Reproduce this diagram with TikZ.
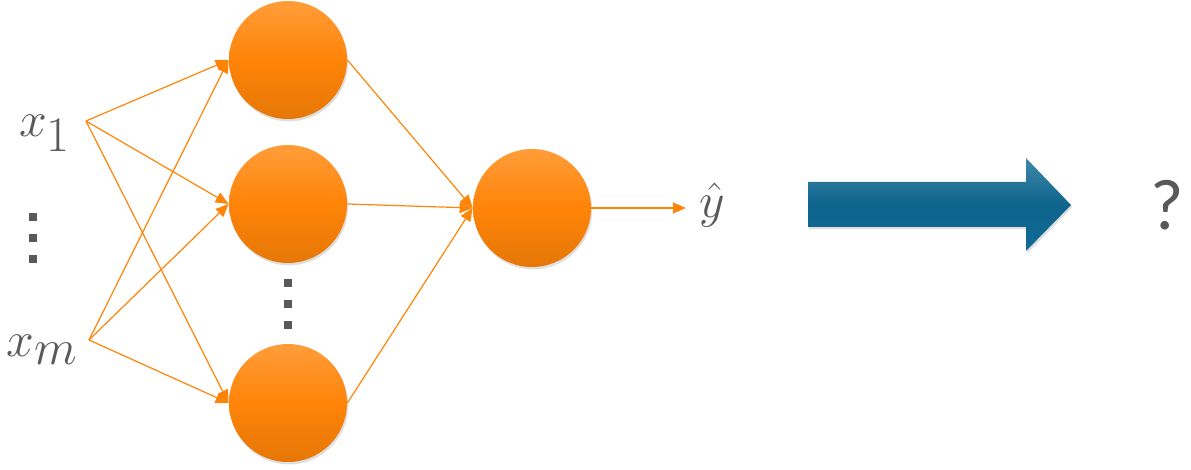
\documentclass[tikz,border=0pt]{standalone}
\usepackage{fontspec}
\setsansfont{Carlito}
\usetikzlibrary{arrows.meta,shadows}
\definecolor{nodeorange}{HTML}{FF8408}
\definecolor{textgray}{HTML}{595959}
\definecolor{arrowblue}{HTML}{0F6A94}
\tikzset{neuron/.style={circle,minimum size=59pt,inner sep=0pt,
    top color=nodeorange!80!white,bottom color=nodeorange!90!black,middle color=nodeorange,
    drop shadow={opacity=.25,shadow xshift=.6pt,shadow yshift=-1.2pt}},
  link/.style={draw=nodeorange,line width=.6pt,-{Triangle[length=6.5pt,width=5.5pt]}},
  var/.style={text=textgray,font=\fontsize{38}{44}\selectfont,inner sep=1pt},
  vdots/.style={fill=textgray,minimum size=4pt,inner sep=0pt}}

\begin{document}
\begin{tikzpicture}[x=.5pt,y=-.5pt]
  \path[use as bounding box] (0,0) rectangle (1191,470);
  % inputs
  \node[var] (x1) at (45,133) {$x_1$};
  \node[var] (xm) at (42,350) {$x_m$};
  \coordinate (i1) at (86,121);
  \coordinate (im) at (89,340);
  \foreach \y [count=\i] in {217,238,259}{\node[vdots] (ld\i) at (33,\y) {};}
  % hidden layer
  \node[neuron] (h1) at (288,60) {};
  \node[neuron] (h2) at (288,204) {};
  \node[neuron] (h3) at (288,403) {};
  \foreach \y [count=\i] in {283,304,325}{\node[vdots] (hd\i) at (288,\y) {};}
  % output
  \node[neuron] (out) at (532,208) {};
  \coordinate (o) at (686,208);
  \node[var] (yhat) at (712,205) {$\hat{y}$};
  \foreach \h in {h1,h2,h3}{
    \draw[link] (i1) -- (\h.west);
    \draw[link] (im) -- (\h.west);
    \draw[link] (\h.east) -- (out.west);}
  \draw[link] (out.east) -- (o);
  % big arrow
  \path[top color=arrowblue!80!white,bottom color=arrowblue,middle color=arrowblue!95!black,
    drop shadow={opacity=.25,shadow xshift=.6pt,shadow yshift=-1.2pt}]
    (808,182) -- (1026,182) -- (1026,158) -- (1071,205) -- (1026,251)
    -- (1026,227) -- (808,227) -- cycle;
  \node[text=textgray,font=\sffamily\fontsize{36}{42}\selectfont] (q) at (1167,205) {?};
\end{tikzpicture}
\end{document}
